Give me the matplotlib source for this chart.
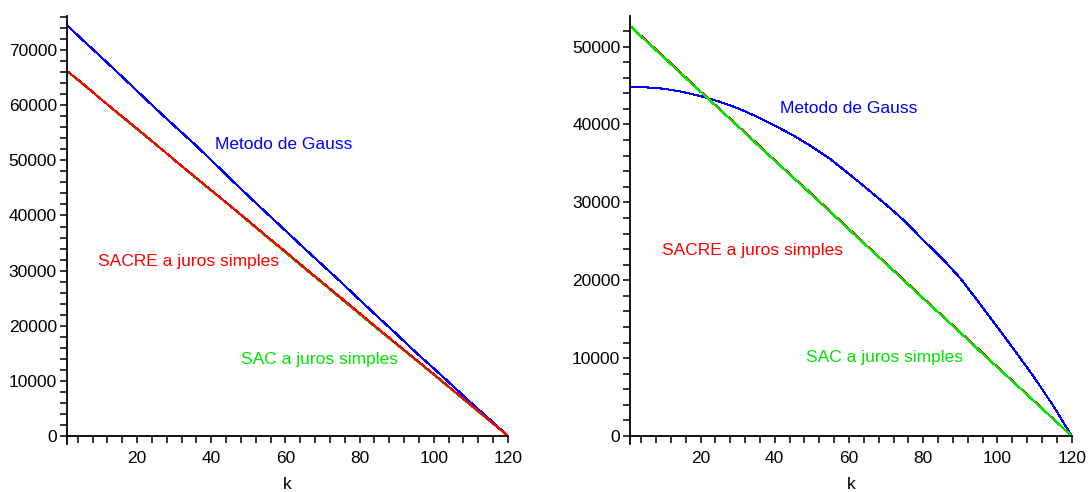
import matplotlib
matplotlib.use("Agg")
import matplotlib.pyplot as plt
from matplotlib.ticker import MultipleLocator, FuncFormatter

plt.rcParams['font.family'] = ['Liberation Sans', 'DejaVu Sans']

# parcela k (eixo x)
k = [1, 5, 10, 15, 20, 25, 30, 35, 40, 45, 50, 55, 60, 65, 70, 75, 80,
     85, 90, 95, 100, 105, 110, 115, 120]

# grafico da esquerda
gauss_esq = [74600, 72050, 68950, 65800, 62600, 59400, 56300, 53250, 50050,
             46750, 43550, 40400, 37250, 34100, 31000, 27900, 24700, 21550,
             18450, 15250, 12250, 9150, 6050, 3050, 0]
sacre_esq = [66300, 64150, 61250, 58500, 55750, 52950, 50100, 47350, 44600,
             41800, 39050, 36200, 33450, 30600, 27850, 25050, 22250, 19450,
             16700, 13950, 11200, 8400, 5600, 2820, 0]
sac_esq = [66300, 64000, 61300, 58400, 55650, 52900, 50150, 47250, 44500,
           41850, 38900, 36100, 33300, 30450, 27700, 24900, 22100, 19300,
           16600, 13850, 11100, 8330, 5530, 2760, 0]

# grafico da direita
gauss_dir = [44850, 44780, 44600, 44200, 43650, 42950, 42100, 41050, 39850,
             38600, 37150, 35550, 33650, 31700, 29700, 27600, 25150, 22850,
             20250, 17150, 13950, 10750, 7450, 3900, 0]
sacre_dir = [52670, 50950, 48750, 46500, 44250, 42050, 39850, 37650, 35400,
             33200, 31050, 28800, 26600, 24350, 22150, 19950, 17700, 15500,
             13300, 11100, 8850, 6650, 4450, 2210, 0]
sac_dir = [52670, 50850, 48650, 46400, 44200, 42000, 39800, 37550, 35350,
           33150, 30950, 28750, 26500, 24300, 22100, 19850, 17650, 15450,
           13250, 11000, 8800, 6600, 4400, 2180, 0]

AZUL = '#0000ff'
VERMELHO = '#ff0000'
VERDE = '#00e600'
FS = 12.5
LW = 0.75


def eixos(ax, ymin, ymax):
    ax.set_xlim(1, 120)
    ax.set_ylim(ymin, ymax)
    ax.spines['top'].set_visible(False)
    ax.spines['right'].set_visible(False)
    ax.spines['bottom'].set_position(('data', 0))
    for s in ('left', 'bottom'):
        ax.spines[s].set_linewidth(1.3)
    ax.xaxis.set_major_locator(MultipleLocator(20))
    ax.xaxis.set_minor_locator(MultipleLocator(4))
    ax.yaxis.set_major_locator(MultipleLocator(10000))
    ax.yaxis.set_minor_locator(MultipleLocator(2000))
    ax.yaxis.set_major_formatter(FuncFormatter(lambda v, p: '%d' % v if v >= 0 else ''))
    ax.tick_params(which='both', direction='out', length=5, width=1.1)
    ax.tick_params(axis='x', pad=6, labelsize=FS)
    ax.tick_params(axis='y', pad=2, labelsize=FS)
    ax.set_xlabel('k', fontsize=FS, va='center')
    ax.xaxis.set_label_coords(0.5, -0.094)


fig = plt.figure(figsize=(10.89, 4.92), dpi=100)
ax1 = fig.add_axes([0.0611, 0.0976, 0.4054, 0.870])
ax2 = fig.add_axes([0.5785, 0.0976, 0.4056, 0.870])

ax1.plot(k, gauss_esq, color=AZUL, lw=LW, antialiased=False)
ax1.plot(k, sac_esq, color=VERDE, lw=LW, antialiased=False)
ax1.plot(k, sacre_esq, color=VERMELHO, lw=LW, antialiased=False)
eixos(ax1, -1450, 76200)
ax1.text(59.6, 52800, 'Metodo de Gauss', color=AZUL, fontsize=FS, ha='center', va='center')
ax1.text(34.0, 31600, 'SACRE a juros simples', color=VERMELHO, fontsize=FS, ha='center', va='center')
ax1.text(69.3, 13800, 'SAC a juros simples', color=VERDE, fontsize=FS, ha='center', va='center')

ax2.plot(k, gauss_dir, color=AZUL, lw=LW, antialiased=False)
ax2.plot(k, sacre_dir, color=VERMELHO, lw=LW, antialiased=False)
ax2.plot(k, sac_dir, color=VERDE, lw=LW, antialiased=False)
eixos(ax2, -1030, 53940)
ax2.text(59.8, 42000, 'Metodo de Gauss', color=AZUL, fontsize=FS, ha='center', va='center')
ax2.text(34.0, 23800, 'SACRE a juros simples', color=VERMELHO, fontsize=FS, ha='center', va='center')
ax2.text(69.7, 10050, 'SAC a juros simples', color=VERDE, fontsize=FS, ha='center', va='center')

fig.savefig('out.png', dpi=100)
